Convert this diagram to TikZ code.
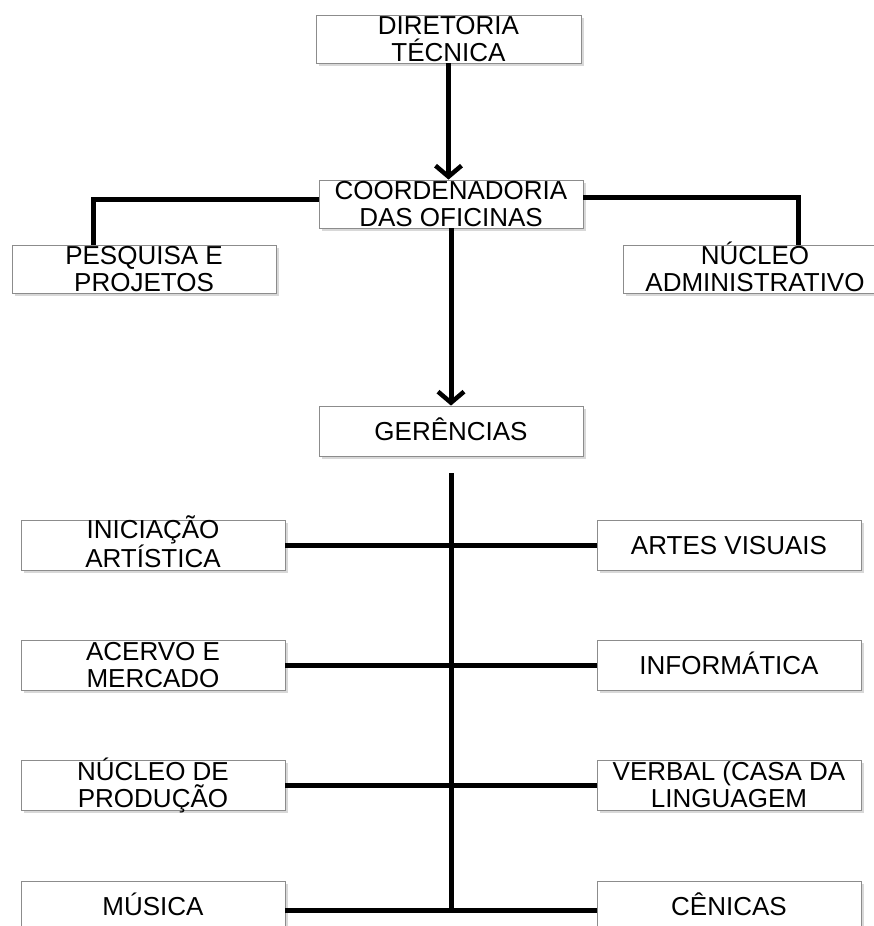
\documentclass[tikz,border=0pt]{standalone}
\usepackage{fontspec}
\setmainfont{Liberation Sans}
\usetikzlibrary{arrows.meta, shadows}

\tikzset{
  box/.style={draw=black!45, line width=0.8pt, fill=white, inner sep=0pt,
    minimum width=264pt, minimum height=48pt, align=center,
    text height=45.6pt, text depth=0pt,
    font=\fontsize{26}{27}\selectfont,
    drop shadow={shadow xshift=2.5pt, shadow yshift=-3pt, fill=black!30}},
  gbox/.style={box, minimum height=50pt},
  oneline/.style={text height=18.6pt},
  link/.style={line width=5pt},
  arr/.style={line width=5pt, -{Straight Barb[length=11pt, width=26pt, line width=4.5pt]}}
}

\begin{document}
\begin{tikzpicture}[x=1pt, y=-1pt]

            \useasboundingbox (0,0) rectangle (874,926);
            \clip (0,0) rectangle (874,926);

            \node[box, minimum width=265pt] (dt) at (448.5,39) {DIRETORIA\\TÉCNICA};
            \node[box] (coord) at (451,204) {COORDENADORIA\\DAS OFICINAS};
            \node[box] (pesq) at (144,269) {PESQUISA E\\PROJETOS};
            \node[box] (nadm) at (755,269) {NÚCLEO\\ADMINISTRATIVO};
            \node[gbox, oneline] (ger) at (451,431) {GERÊNCIAS};

            \node[gbox] (ini) at (153,545) {INICIAÇÃO\\ARTÍSTICA};
            \node[gbox] (acv) at (153,665) {ACERVO E\\MERCADO};
            \node[gbox] (nprod) at (153,785) {NÚCLEO DE\\PRODUÇÃO};
            \node[gbox, oneline] (mus) at (153,906) {MÚSICA};

            \node[gbox, oneline] (artv) at (729,545) {ARTES VISUAIS};
            \node[gbox, oneline] (inf) at (729,665) {INFORMÁTICA};
            \node[gbox] (verb) at (729,785) {VERBAL (CASA DA\\LINGUAGEM};
            \node[gbox, oneline] (cen) at (729,906) {CÊNICAS};

            \draw[arr] (dt.south) -- (dt.south |- coord.north);
            \draw[arr] (coord.south) -- (ger.north);

            \draw[link] ([yshift=5pt]coord.west) -| ([xshift=82pt]pesq.north west);
            \draw[link] ([yshift=7pt]coord.east) -| ([xshift=176pt]nadm.north west);

            \coordinate (sptop) at (451,473);
            \coordinate (m4) at ([yshift=-4pt]mus.east);
            \draw[link] (sptop) -- (sptop |- m4);

            \draw[link] (ini.east) -- (artv.west);
            \draw[link] (acv.east) -- (inf.west);
            \draw[link] (nprod.east) -- (verb.west);
            \draw[link] (m4) -- ([yshift=-4pt]cen.west);
        \end{tikzpicture}
\end{document}
